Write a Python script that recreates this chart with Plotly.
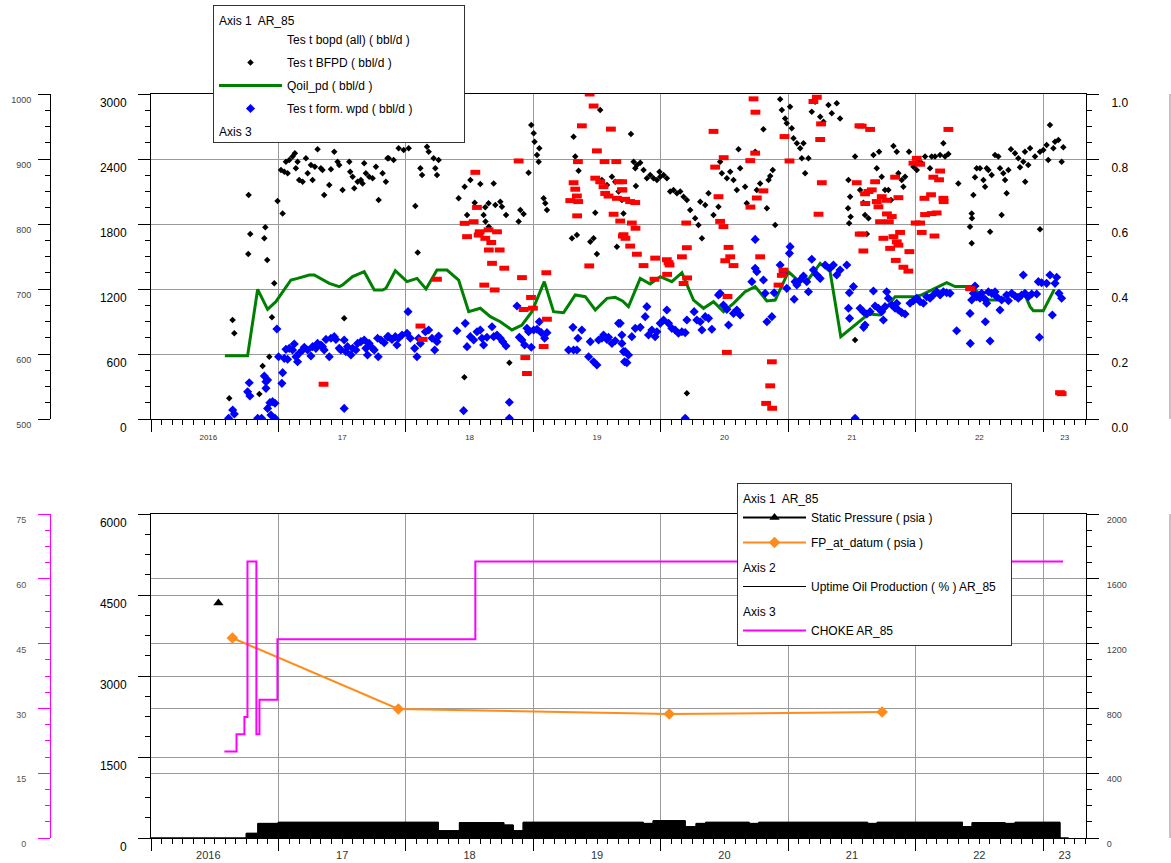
import plotly.graph_objects as go

# ---------------- data ----------------
year_ticks = [2016, 2017, 2018, 2019, 2020, 2021, 2022, 2023]
label_pos = [2016.45, 2017.5, 2018.5, 2019.5, 2020.5, 2021.5, 2022.5, 2023.17]
year_labels = ["2016", "17", "18", "19", "20", "21", "22", "23"]

# Test BFPD (bbl/d) - black points
bfpd_year = [
    2016.614, 2016.640, 2016.654, 2016.766, 2016.779, 2016.763, 2016.889, 2016.897, 2016.912, 2016.850,
    2016.876, 2016.928, 2016.949, 2016.967, 2016.993, 2017.033, 2017.020, 2017.059, 2017.085, 2017.111,
    2017.129, 2017.150, 2017.072, 2017.046, 2017.137, 2017.163, 2017.190, 2017.216, 2017.229, 2017.255,
    2017.268, 2017.286, 2017.307, 2017.333, 2017.346, 2017.359, 2017.399, 2017.412, 2017.438, 2017.464,
    2017.477, 2017.503, 2017.516, 2017.556, 2017.563, 2017.582, 2017.595, 2017.621, 2017.647, 2017.660,
    2017.673, 2017.686, 2017.712, 2017.739, 2017.765, 2017.786, 2017.817, 2017.843, 2017.856,
    2017.865, 2017.904, 2017.943, 2017.983, 2018.022, 2018.074, 2018.093, 2018.114, 2018.127, 2018.166,
    2018.179, 2018.231, 2018.244, 2018.218, 2018.257, 2018.414, 2018.461, 2018.480, 2018.506, 2018.540,
    2018.584, 2018.610, 2018.623, 2018.649, 2018.689, 2018.702, 2018.741, 2018.754, 2018.786, 2018.625,
    2018.651, 2018.885, 2018.898, 2018.924, 2018.963, 2018.984, 2019.003, 2019.010, 2019.047, 2019.029,
    2019.042, 2019.081, 2019.094, 2019.107, 2018.812, 2018.459, 2019.316, 2019.329, 2019.355, 2019.342,
    2019.303, 2019.447, 2019.473, 2019.486, 2019.499, 2019.525, 2019.538, 2019.578, 2019.617, 2019.643,
    2019.656, 2019.669, 2019.695, 2019.708,
    2019.766, 2019.787, 2019.813, 2019.839, 2019.800, 2019.865, 2019.891, 2019.917, 2019.943, 2019.970,
    2019.996, 2020.022, 2020.048, 2019.990, 2020.074, 2020.100, 2020.127, 2020.153, 2020.179, 2020.205,
    2019.805, 2020.231, 2020.270, 2020.296, 2020.323, 2020.310, 2020.349, 2020.375, 2020.414, 2020.453,
    2020.466, 2020.479, 2020.519, 2020.545, 2020.571, 2020.597, 2020.610, 2020.623, 2020.662, 2020.675,
    2020.741, 2020.754, 2020.780, 2020.806, 2020.833, 2020.846, 2020.859, 2020.879, 2020.898, 2020.937,
    2020.950, 2020.976, 2020.989, 2021.015, 2021.028, 2021.042, 2021.068, 2021.094, 2021.120, 2021.107,
    2021.133, 2021.159, 2021.185, 2021.211, 2021.251, 2021.277, 2021.316, 2021.342, 2021.381, 2021.407,
    2021.473, 2021.486, 2021.470, 2021.490, 2021.478, 2021.525, 2020.205, 2021.525,
    2021.564, 2021.590, 2021.630, 2021.669, 2021.695, 2021.713, 2021.734, 2021.760, 2021.786, 2021.807,
    2021.826, 2021.852, 2021.865, 2021.891, 2021.917, 2021.904, 2021.948, 2021.983, 2022.009, 2022.022,
    2022.048, 2022.074, 2022.113, 2022.126, 2022.152, 2022.192, 2022.218, 2022.231, 2022.257, 2021.617,
    2021.603, 2022.335, 2022.440, 2022.442, 2022.427, 2022.440, 2022.453, 2022.466, 2022.479, 2022.505,
    2022.532, 2022.558, 2022.545, 2022.571, 2022.597, 2022.584, 2022.623, 2022.649, 2022.662, 2022.675,
    2022.688, 2022.702, 2022.714, 2022.728, 2022.748, 2022.780, 2022.806, 2022.819, 2022.845, 2022.858,
    2022.884, 2022.898, 2022.860, 2022.937, 2022.976, 2023.002, 2023.028, 2023.041, 2023.054, 2023.081,
    2023.094, 2023.120, 2023.146, 2023.159, 2022.976,
]
bfpd_bbl = [
    191, 914, 791, 2068, 1708, 1523, 1668, 1769, 1468, 231,
    489, 575, 939, 1252, 2012, 1898, 2299, 2375, 2391, 2422,
    2452, 2375, 2268, 2283, 2314, 2206, 2191, 2406, 2268, 2345,
    2206, 2329, 2489, 2314, 2299, 2068, 2160, 2305, 2468, 2375,
    2345, 2114, 929, 2375, 2283, 2237, 2129, 2191, 2206, 2175,
    2360, 2268, 2237, 2222, 2329, 2022, 2268, 2191, 2406,
    2406, 2391, 2499, 2483, 2499, 1966, 1538, 2314, 2252, 2514,
    2468, 2314, 2252, 2406, 2391, 2037, 2145, 1883, 2206, 1997,
    2169, 1883, 1954, 1991, 2175, 1975, 2006, 1960, 1883, 1822,
    1775, 1822, 1929, 1892, 2274, 2714, 2637, 2560, 2499, 2437,
    2375, 2037, 1991, 1929, 520, 385, 2606, 2422, 2292, 1698,
    1668, 1637, 1668, 1905, 1523, 2852, 2206, 2160, 2237, 2191,
    1591, 2099, 2022, 1898,
    2631, 2375, 2345, 2366, 2314, 2299, 2222, 2252, 2222, 2206,
    2237, 2252, 2222, 2283, 2099, 2114, 2083, 2099, 2052, 2022,
    2151, 1929, 1852, 1791, 1668, 2006, 1975, 2083, 1883, 1960,
    2375, 2268, 2222, 2283, 2206, 2114, 2489, 2314, 2145, 1991,
    2468, 2114, 2175, 2674, 1945, 2206, 2243, 2299, 1791, 2951,
    2852, 2775, 2729, 2883, 2683, 2591, 2545, 2499, 2545, 2406,
    2268, 2406, 2837, 2929, 2791, 2745, 2899, 2822, 2914, 2775,
    2206, 2052, 1945, 1868, 1806, 2422, 237, 729,
    2114, 1997, 1852, 2437, 2314, 2468, 2237, 2114, 2114, 2022,
    2520, 2468, 2268, 2206, 2237, 2145, 2468, 2329, 2299, 2375,
    2360, 2422, 2314, 2422, 2422, 2437, 2545, 2422, 2446, 1708,
    1883, 2175, 1898, 1852, 1775, 1622, 2068, 2231, 2314, 2314,
    2206, 2314, 2145, 2299, 2252, 1729, 2437, 2422, 2314, 1883,
    2268, 2206, 2083, 2299, 2489, 2452, 2406, 2323, 2375, 2468,
    2345, 2499, 2191, 2422, 2468, 2483, 2529, 2391, 2714, 2499,
    2560, 2576, 2375, 2508, 1751,
]

# Qoil_pd (bbl/d) - green line
qoil_year = [
    2016.58, 2016.758, 2016.837, 2016.915, 2016.98, 2017.046, 2017.098, 2017.15, 2017.242, 2017.281,
    2017.399, 2017.477, 2017.503, 2017.582, 2017.673, 2017.752, 2017.817, 2017.843, 2017.917, 2018.009,
    2018.087, 2018.158, 2018.244, 2018.323, 2018.414, 2018.493, 2018.584, 2018.663, 2018.741, 2018.832,
    2018.911, 2018.989, 2019.086, 2019.159, 2019.238, 2019.329, 2019.408, 2019.486, 2019.578, 2019.643,
    2019.70, 2019.747, 2019.839, 2019.917, 2019.996, 2020.087, 2020.166, 2020.257, 2020.336, 2020.414,
    2020.493, 2020.571, 2020.662, 2020.741, 2020.833, 2020.898, 2021.002, 2021.068, 2021.146, 2021.251,
    2021.329, 2021.413, 2021.52, 2021.63, 2021.721, 2021.839, 2021.996, 2022.048, 2022.152, 2022.244,
    2022.309, 2022.427, 2022.466, 2022.571, 2022.675, 2022.728, 2022.858, 2022.898, 2022.924, 2023.002,
    2023.088,
]
qoil_bbl = [
    585, 585, 1197, 1012, 1083, 1191, 1283, 1298, 1329, 1329,
    1252, 1222, 1237, 1314, 1360, 1191, 1191, 1206, 1369, 1268,
    1298, 1200, 1375, 1375, 1283, 991, 1022, 945, 898, 822,
    868, 991, 1268, 991, 982, 1145, 1129, 1006, 1114, 1123,
    1090, 1037, 1298, 1246, 1314, 1268, 1351, 1098, 1022, 1083,
    991, 1068, 1175, 1222, 1089, 1098, 1360, 1289, 1268, 1437,
    1360, 760, 860, 969, 960, 1129, 1129, 1145, 1206, 1258,
    1222, 1222, 1191, 1098, 1098, 1151, 1145, 1037, 1000, 1000,
    1197,
]

# Test form. wpd (bbl/d) - blue points
wpd_year = [
    2016.609, 2016.641, 2016.654, 2016.771, 2016.758, 2016.776, 2016.837, 2016.868, 2016.889, 2016.902,
    2016.915, 2016.902, 2016.933, 2016.915, 2016.954, 2016.973, 2016.941, 2016.973, 2016.988, 2017.001,
    2017.033, 2017.027, 2017.046, 2017.072, 2017.059, 2017.085, 2017.111, 2017.124, 2017.137, 2017.150,
    2017.163, 2017.190, 2017.203, 2017.229, 2017.255, 2017.268, 2017.294, 2017.307, 2017.333, 2017.346,
    2017.359, 2017.373, 2017.399, 2017.412, 2017.438, 2017.451, 2017.477, 2017.490, 2017.516, 2017.529,
    2017.542, 2017.569, 2017.582, 2017.608, 2017.621, 2017.647, 2017.673, 2017.686, 2017.699, 2017.712,
    2017.739, 2017.752, 2017.778, 2017.783, 2017.804, 2017.830, 2017.856, 2017.516,
    2017.865, 2017.891, 2017.917, 2017.943, 2017.970, 2018.009, 2018.035, 2017.930, 2018.017, 2018.087,
    2018.069, 2018.100, 2018.114, 2018.153, 2018.179, 2018.205, 2018.226, 2018.244, 2018.257, 2018.401,
    2018.466, 2018.480, 2018.506, 2018.532, 2018.558, 2018.584, 2018.597, 2018.610, 2018.636, 2018.676,
    2018.689, 2018.715, 2018.741, 2018.760, 2018.786, 2018.453, 2018.812, 2018.812, 2018.872, 2018.890,
    2018.911, 2018.932, 2018.950, 2018.963, 2018.984, 2019.003, 2019.029, 2019.047, 2019.063, 2019.089,
    2019.107, 2019.311, 2019.381, 2019.350, 2019.277, 2019.316, 2019.342, 2019.434, 2019.473, 2019.499,
    2019.447, 2019.512, 2019.538, 2019.551, 2019.578, 2019.590, 2019.617, 2019.643, 2019.669, 2019.695,
    2019.708, 2019.716,
    2019.682, 2019.695, 2019.721, 2019.747, 2019.734, 2019.773, 2019.800, 2019.839, 2019.878, 2019.891,
    2019.904, 2019.930, 2019.956, 2019.970, 2019.996, 2020.022, 2020.048, 2020.061, 2020.087, 2020.113,
    2020.139, 2020.166, 2020.192, 2020.205, 2020.262, 2020.283, 2020.310, 2020.349, 2020.375, 2020.323,
    2020.401, 2020.453, 2020.466, 2020.492, 2020.519, 2020.532, 2020.571, 2020.597, 2020.623, 2020.715,
    2020.741, 2020.754, 2020.741, 2020.806, 2020.819, 2020.833, 2020.872, 2020.890, 2020.937, 2020.963,
    2020.989, 2021.015, 2021.010, 2021.054, 2021.068, 2021.047, 2021.094, 2021.120, 2021.146, 2021.159,
    2021.185, 2021.198, 2021.225, 2021.251, 2021.290, 2021.329, 2021.355, 2021.381, 2021.407, 2021.460,
    2021.480, 2021.473, 2021.482, 2021.512, 2021.525, 2020.192,
    2021.564, 2021.590, 2021.617, 2021.643, 2021.603, 2021.592, 2021.669, 2021.682, 2021.708, 2021.734,
    2021.760, 2021.747, 2021.773, 2021.786, 2021.813, 2021.839, 2021.865, 2021.891, 2021.917, 2021.852,
    2021.956, 2021.983, 2022.009, 2022.035, 2022.061, 2022.087, 2022.113, 2022.139, 2022.165, 2022.192,
    2022.218, 2022.244, 2022.270, 2022.322, 2022.427, 2022.429, 2022.440, 2022.453, 2022.466, 2022.479,
    2022.505, 2022.518, 2022.545, 2022.558, 2022.571, 2022.597, 2022.623, 2022.636, 2022.662, 2022.675,
    2022.547, 2022.584, 2022.714, 2022.728, 2022.754, 2022.780, 2022.806, 2022.832, 2022.845, 2022.858,
    2022.884, 2022.911, 2022.950, 2022.963, 2022.971, 2022.989, 2023.028, 2023.054, 2023.094, 2023.107,
    2023.125, 2023.146, 2023.073,
]
wpd_bbl = [
    6, 83, 46, 335, 252, 212, 6, 6, 397, 345,
    360, 283, 151, 98, 160, 145, 37, 6, 831, 575,
    428, 329, 560, 551, 643, 652, 637, 692, 575, 529,
    606, 637, 662, 637, 582, 668, 652, 698, 683, 668,
    637, 735, 575, 745, 760, 735, 652, 637, 729, 622,
    668, 591, 652, 637, 698, 714, 729, 652, 591, 698,
    652, 637, 745, 575, 729, 705, 760, 98,
    760, 735, 760, 745, 775, 791, 745, 683, 991, 575,
    652, 745, 698, 806, 822, 745, 637, 714, 766, 815,
    883, 668, 760, 729, 806, 822, 745, 683, 754, 852,
    760, 775, 745, 714, 674, 77, 154, 6, 1043, 754,
    729, 683, 837, 806, 662, 822, 828, 898, 797, 745,
    797, 846, 822, 745, 637, 637, 637, 575, 529, 499,
    714, 729, 745, 775, 735, 754, 698, 723, 883, 698,
    622, 529,
    883, 775, 622, 591, 520, 760, 837, 846, 945, 1037,
    775, 822, 760, 806, 883, 914, 1006, 883, 837, 822,
    791, 806, 797, 914, 991, 914, 898, 945, 929, 822,
    828, 1145, 1160, 1052, 1012, 868, 975, 1006, 960, 1268,
    1391, 1360, 1658, 1283, 1160, 898, 945, 1166, 1422, 1351,
    1206, 1591, 1529, 1268, 1237, 1105, 1283, 1320, 1268, 1175,
    1474, 1375, 1329, 1298, 1422, 1391, 1422, 1329, 1375, 1422,
    1166, 1022, 929, 1222, 6, 6,
    1022, 991, 969, 991, 868, 846, 1182, 1043, 1022, 991,
    1037, 914, 1175, 1114, 1052, 1022, 1006, 982, 969, 1068,
    1068, 1092, 1114, 1083, 1068, 1129, 1114, 1145, 1175, 1145,
    1175, 1166, 1160, 815, 975, 698, 1098, 1160, 1228, 1129,
    1114, 1160, 1105, 1068, 1175, 1160, 1175, 1129, 1006, 1098,
    898, 720, 1145, 1092, 1160, 1135, 1114, 1145, 1329, 1160,
    1129, 1154, 1154, 1268, 754, 1258, 1252, 1329, 1252, 1308,
    1160, 1114, 960,
]

# Axis 3 series (fraction) - red squares
wcut_year = [
    2017.354,
    2019.442, 2019.473, 2019.381, 2019.609, 2019.499, 2019.350, 2019.559, 2019.651, 2019.316, 2019.329,
    2019.342, 2019.290, 2019.352, 2019.344, 2019.486, 2019.525, 2019.551, 2019.564, 2019.590, 2019.656,
    2019.669, 2019.695, 2019.630, 2019.682, 2019.703, 2019.439, 2018.885, 2018.545, 2018.558, 2018.461,
    2018.532, 2018.480, 2018.579, 2018.571, 2018.623, 2018.649, 2018.715, 2018.670, 2018.651, 2018.736,
    2018.676, 2018.772, 2018.244, 2018.615, 2018.697, 2018.911, 2019.102, 2018.982, 2018.997, 2018.924,
    2019.107, 2018.114, 2018.132, 2019.081, 2018.937, 2018.950,
    2019.697, 2019.721, 2019.760, 2019.800, 2019.699, 2019.773, 2019.802, 2019.708, 2019.723, 2019.760,
    2019.813, 2019.865, 2019.956, 2020.048, 2020.069, 2020.061, 2020.050, 2019.951, 2020.205, 2020.166,
    2020.207, 2020.179, 2020.200, 2020.414, 2020.427, 2020.453, 2020.466, 2020.492, 2020.494, 2020.532,
    2020.545, 2020.571, 2020.506, 2020.524, 2020.519, 2020.702, 2020.704, 2020.754, 2020.806, 2020.741,
    2020.728, 2020.743, 2020.780, 2020.872, 2020.859, 2020.827, 2020.874, 2020.924, 2020.950, 2020.963,
    2020.971, 2021.010, 2021.198, 2021.225, 2021.258, 2021.251, 2021.264, 2021.238, 2021.559, 2021.561,
    2021.577, 2021.643, 2022.257, 2022.009, 2021.983, 2022.035, 2022.192, 2022.139, 2022.184, 2021.839,
    2021.682, 2021.538, 2021.656, 2021.603, 2021.630, 2021.734, 2021.773, 2021.865, 2021.695, 2021.605,
    2021.708, 2021.775, 2021.813, 2021.721, 2021.790, 2022.069, 2022.121, 2022.218, 2022.220, 2022.074,
    2022.126, 2022.165, 2022.000, 2022.035, 2022.048, 2022.148, 2021.579, 2021.878, 2021.747, 2021.826,
    2021.852, 2021.800, 2021.865, 2021.590, 2021.951, 2021.844, 2021.904, 2021.943, 2022.427, 2023.133,
    2023.146,
]
wcut_frac = [
    0.107,
    1.0, 0.963, 0.902, 0.892, 0.825, 0.792, 0.792, 0.792, 0.727, 0.707,
    0.686, 0.672, 0.669, 0.625, 0.741, 0.730, 0.715, 0.694, 0.686, 0.679,
    0.730, 0.705, 0.630, 0.609, 0.563, 0.471, 0.794, 0.759, 0.651, 0.602,
    0.607, 0.561, 0.576, 0.566, 0.556, 0.582, 0.576, 0.543, 0.520, 0.520,
    0.479, 0.464, 0.430, 0.412, 0.397, 0.435, 0.450, 0.374, 0.341, 0.337,
    0.307, 0.286, 0.245, 0.223, 0.189, 0.140,
    0.730, 0.676, 0.669, 0.666, 0.705, 0.603, 0.587, 0.567, 0.556, 0.532,
    0.507, 0.472, 0.495, 0.490, 0.474, 0.481, 0.445, 0.430, 0.527, 0.499,
    0.434, 0.417, 0.603, 0.885, 0.775, 0.684, 0.608, 0.592, 0.804, 0.528,
    0.499, 0.472, 0.487, 0.377, 0.205, 0.795, 0.652, 0.680, 0.702, 0.818,
    0.985, 0.944, 0.499, 0.176, 0.102, 0.048, 0.033, 0.412, 0.442, 0.458,
    0.869, 0.794, 0.977, 0.990, 0.908, 0.860, 0.727, 0.630, 0.902, 0.569,
    0.901, 0.891, 0.891, 0.802, 0.787, 0.784, 0.763, 0.744, 0.736, 0.744,
    0.730, 0.727, 0.705, 0.693, 0.700, 0.684, 0.673, 0.681, 0.669, 0.663,
    0.653, 0.631, 0.623, 0.607, 0.607, 0.679, 0.690, 0.679, 0.669, 0.629,
    0.632, 0.634, 0.603, 0.603, 0.574, 0.563, 0.569, 0.574, 0.556, 0.561,
    0.545, 0.525, 0.535, 0.517, 0.515, 0.488, 0.467, 0.455, 0.401, 0.081,
    0.078,
]

# Lower panel
static_p_year = [2016.529]
static_p_psia = [4352]

fp_year = [2016.639, 2017.941, 2020.067, 2021.737]
fp_psia = [3704, 2389, 2296, 2333]

uptime_year = [2016.0, 2016.747, 2016.838, 2016.998, 2018.255, 2018.42, 2018.769, 2018.843, 2018.92,
               2019.863, 2019.94, 2020.192, 2020.277, 2020.352, 2020.694, 2020.769, 2021.624, 2021.698,
               2022.368, 2022.443, 2022.702, 2022.78, 2023.133, 2023.2]
uptime_pct = [0, 29, 90, 97, 45, 95, 80, 45, 97,
              90, 107, 70, 90, 97, 90, 97, 90, 97,
              70, 95, 90, 97, 0, 0]

choke_year = [2016.576, 2016.671, 2016.733, 2016.757, 2016.827, 2016.851, 2016.992, 2018.545, 2023.157]
choke_val = [20, 24, 28, 64, 24, 32, 46, 64, 64]

# ---------------- layout helpers ----------------
W, H = 1171, 863
XR = [2016.0, 2023.337]
XD = [151 / W, 1086 / W]
TOP = [1 - 419 / H, 1 - 94 / H]
BOT = [1 - 838 / H, 1 - 514 / H]
OUTER = 50 / W
EDGE = 1170 / W
GRID = "#9a9a9a"
FONT = "Arial, Liberation Sans, sans-serif"
NARROW = "Liberation Sans Narrow, Arial Narrow, Liberation Sans, Arial, sans-serif"
PAD = "\u00a0"  # keeps the legend boxes as wide as the original ones


def x_axis(anchor):
    return dict(domain=XD, anchor=anchor, range=XR, tickmode="array", tickvals=year_ticks,
                ticktext=[""] * len(year_ticks), ticks="outside", ticklen=12, tickcolor="black",
                showgrid=True, gridcolor=GRID, gridwidth=1, showline=True, linecolor="black",
                linewidth=1, mirror=True, zeroline=False, automargin=False,
                minor=dict(tickmode="linear", tick0=2016, dtick=1 / 12, ticks="outside",
                           ticklen=5, tickcolor="black", showgrid=False))


def x_label_axis(overlay, anchor, size, standoff):
    return dict(overlaying=overlay, anchor=anchor, range=XR, tickmode="array",
                tickvals=label_pos, ticktext=year_labels, ticks="", showgrid=False,
                showline=False, zeroline=False, side="bottom", ticklabelstandoff=standoff,
                automargin=False, tickfont=dict(size=size, family=NARROW, color="#333"))


def y_axis(rng, dtick, minor, size=12, family=FONT, color="black", tickcolor="black",
           grid=False, standoff=9, shift=8, fmt=None, **kw):
    d = dict(range=rng, tick0=rng[0], dtick=dtick, ticks="outside", ticklen=12,
             tickcolor=tickcolor, showgrid=grid, gridcolor=GRID, gridwidth=1,
             showline=True, linecolor=tickcolor, linewidth=1, zeroline=False, automargin=False,
             tickfont=dict(size=size, family=family, color=color),
             ticklabelstandoff=standoff, ticklabelshift=shift,
             minor=dict(dtick=minor, tick0=rng[0], ticks="outside", ticklen=5,
                        tickcolor=tickcolor, showgrid=False))
    if fmt:
        d["tickformat"] = fmt
    d.update(kw)
    return d


def edge_axis(overlay):
    return dict(overlaying=overlay, anchor="free", position=EDGE, side="right", range=[0, 1],
                showline=True, linecolor="#c4c4c4", linewidth=2, ticks="", automargin=False,
                showticklabels=False, showgrid=False, zeroline=False)


fig = go.Figure()


def axis_holder(xa, ya):
    # attaches an otherwise empty axis so Plotly draws it
    fig.add_trace(go.Scatter(x=[None], y=[None], mode="lines", showlegend=False,
                             hoverinfo="skip", xaxis=xa, yaxis=ya))


# ---- top panel ----
fig.add_trace(go.Scatter(x=[None], y=[None], mode="markers",
                         name="Tes t bopd (all) ( bbl/d )" + PAD * 12,
                         marker=dict(color="rgba(0,0,0,0)", size=5),
                         legend="legend", legendgroup="a1", legendgrouptitle_text="Axis 1  AR_85",
                         xaxis="x", yaxis="y"))
fig.add_trace(go.Scatter(x=bfpd_year, y=bfpd_bbl, mode="markers", name="Tes t BFPD ( bbl/d )",
                         marker=dict(color="black", size=5, symbol="diamond"),
                         legend="legend", legendgroup="a1b", xaxis="x", yaxis="y"))
fig.add_trace(go.Scatter(x=qoil_year, y=qoil_bbl, mode="lines", name="Qoil_pd ( bbl/d )",
                         line=dict(color="#008000", width=3),
                         legend="legend", legendgroup="a1c", xaxis="x", yaxis="y"))
fig.add_trace(go.Scatter(x=wpd_year, y=wpd_bbl, mode="markers", name="Tes t form. wpd ( bbl/d )",
                         marker=dict(color="#0000ff", size=7, symbol="diamond"),
                         legend="legend", legendgroup="a1d", xaxis="x", yaxis="y"))
fig.add_trace(go.Scatter(x=wcut_year, y=wcut_frac, mode="markers", name=" ",
                         marker=dict(symbol="line-ew", size=7,
                                     line=dict(color="#ff0000", width=5)),
                         legend="legend", legendgroup="a3", legendgrouptitle_text="Axis 3",
                         xaxis="x", yaxis="y3"))
axis_holder("x3", "y")
axis_holder("x", "y2")
axis_holder("x", "y4")

# ---- bottom panel ----
fig.add_trace(go.Scatter(x=static_p_year, y=static_p_psia, mode="lines+markers",
                         name="Static Pressure ( psia )",
                         line=dict(color="black", width=2),
                         marker=dict(color="black", size=9, symbol="triangle-up"),
                         legend="legend2", legendgroup="b1", legendgrouptitle_text="Axis 1  AR_85",
                         xaxis="x2", yaxis="y5"))
fig.add_trace(go.Scatter(x=fp_year, y=fp_psia, mode="lines+markers", name="FP_at_datum ( psia )",
                         line=dict(color="#ff8c1a", width=2),
                         marker=dict(color="#ff8c1a", symbol="diamond", size=9),
                         legend="legend2", legendgroup="b1b", xaxis="x2", yaxis="y5"))
fig.add_trace(go.Scatter(x=uptime_year, y=uptime_pct, mode="lines", line_shape="hv",
                         fill="tozeroy", fillcolor="black", line=dict(color="black", width=1),
                         showlegend=False, legend="legend2", legendgroup="b2",
                         xaxis="x2", yaxis="y7"))
fig.add_trace(go.Scatter(x=uptime_year, y=uptime_pct, mode="lines", line_shape="hv",
                         name="Uptime Oil Production ( % ) AR_85" + PAD * 3,
                         line=dict(color="black", width=1),
                         legend="legend2", legendgroup="b2", legendgrouptitle_text="Axis 2",
                         xaxis="x2", yaxis="y7"))
fig.add_trace(go.Scatter(x=choke_year, y=choke_val, mode="lines", line_shape="hv",
                         name="CHOKE AR_85", line=dict(color="#ff00ff", width=2),
                         legend="legend2", legendgroup="b3", legendgrouptitle_text="Axis 3",
                         xaxis="x2", yaxis="y6"))
axis_holder("x4", "y5")
axis_holder("x2", "y8")

legend_common = dict(xanchor="left", yanchor="top", bgcolor="white", bordercolor="#333",
                     borderwidth=1, font=dict(family=FONT, size=12, color="black"),
                     grouptitlefont=dict(family=FONT, size=12, color="black"),
                     traceorder="grouped", itemwidth=63)

fig.update_layout(
    width=W, height=H, margin=dict(l=0, r=0, t=0, b=0, autoexpand=False),
    paper_bgcolor="white", plot_bgcolor="white",
    font=dict(family=FONT, size=12, color="black"),
    xaxis=x_axis("y"),
    xaxis3=x_label_axis("x", "y", 8, 12),
    xaxis2=x_axis("y5"),
    xaxis4=x_label_axis("x2", "y5", 11, 9),
    yaxis=y_axis([0, 3000], 600, 150, grid=True, shift=9, domain=TOP, anchor="x"),
    yaxis2=y_axis([500, 1000], 100, 25, size=9, family=NARROW, color="#444", standoff=5, shift=6,
                  overlaying="y", anchor="free", position=OUTER, side="left"),
    yaxis3=y_axis([0, 1], 0.2, 0.05, fmt=".1f", standoff=10, shift=9, overlaying="y", anchor="x",
                  side="right"),
    yaxis4=edge_axis("y"),
    yaxis5=y_axis([0, 6000], 1500, 375, grid=True, shift=9, domain=BOT, anchor="x2"),
    yaxis6=y_axis([0, 75], 15, 3.75, size=9, family=NARROW, color="#555", tickcolor="#ff00ff",
                  standoff=10, shift=6, overlaying="y5", anchor="free", position=OUTER, side="left"),
    yaxis7=y_axis([0, 2000], 400, 100, size=9, family=NARROW, color="#444", grid=True,
                  standoff=6, shift=6, overlaying="y5", anchor="x2", side="right"),
    yaxis8=edge_axis("y5"),
    legend=dict(x=213 / W, y=1 - 5 / H, maxheight=138, tracegroupgap=4, **legend_common),
    legend2=dict(x=737 / W, y=1 - 483 / H, tracegroupgap=6, **legend_common),
)

page_css = ("document.body.style.margin='0px';"
            "var s=document.createElement('style');"
            "s.textContent='.legend .scrollbar{display:none}';"
            "document.head.appendChild(s);")
fig.write_html("out.html", config={"displayModeBar": False}, post_script=page_css)
